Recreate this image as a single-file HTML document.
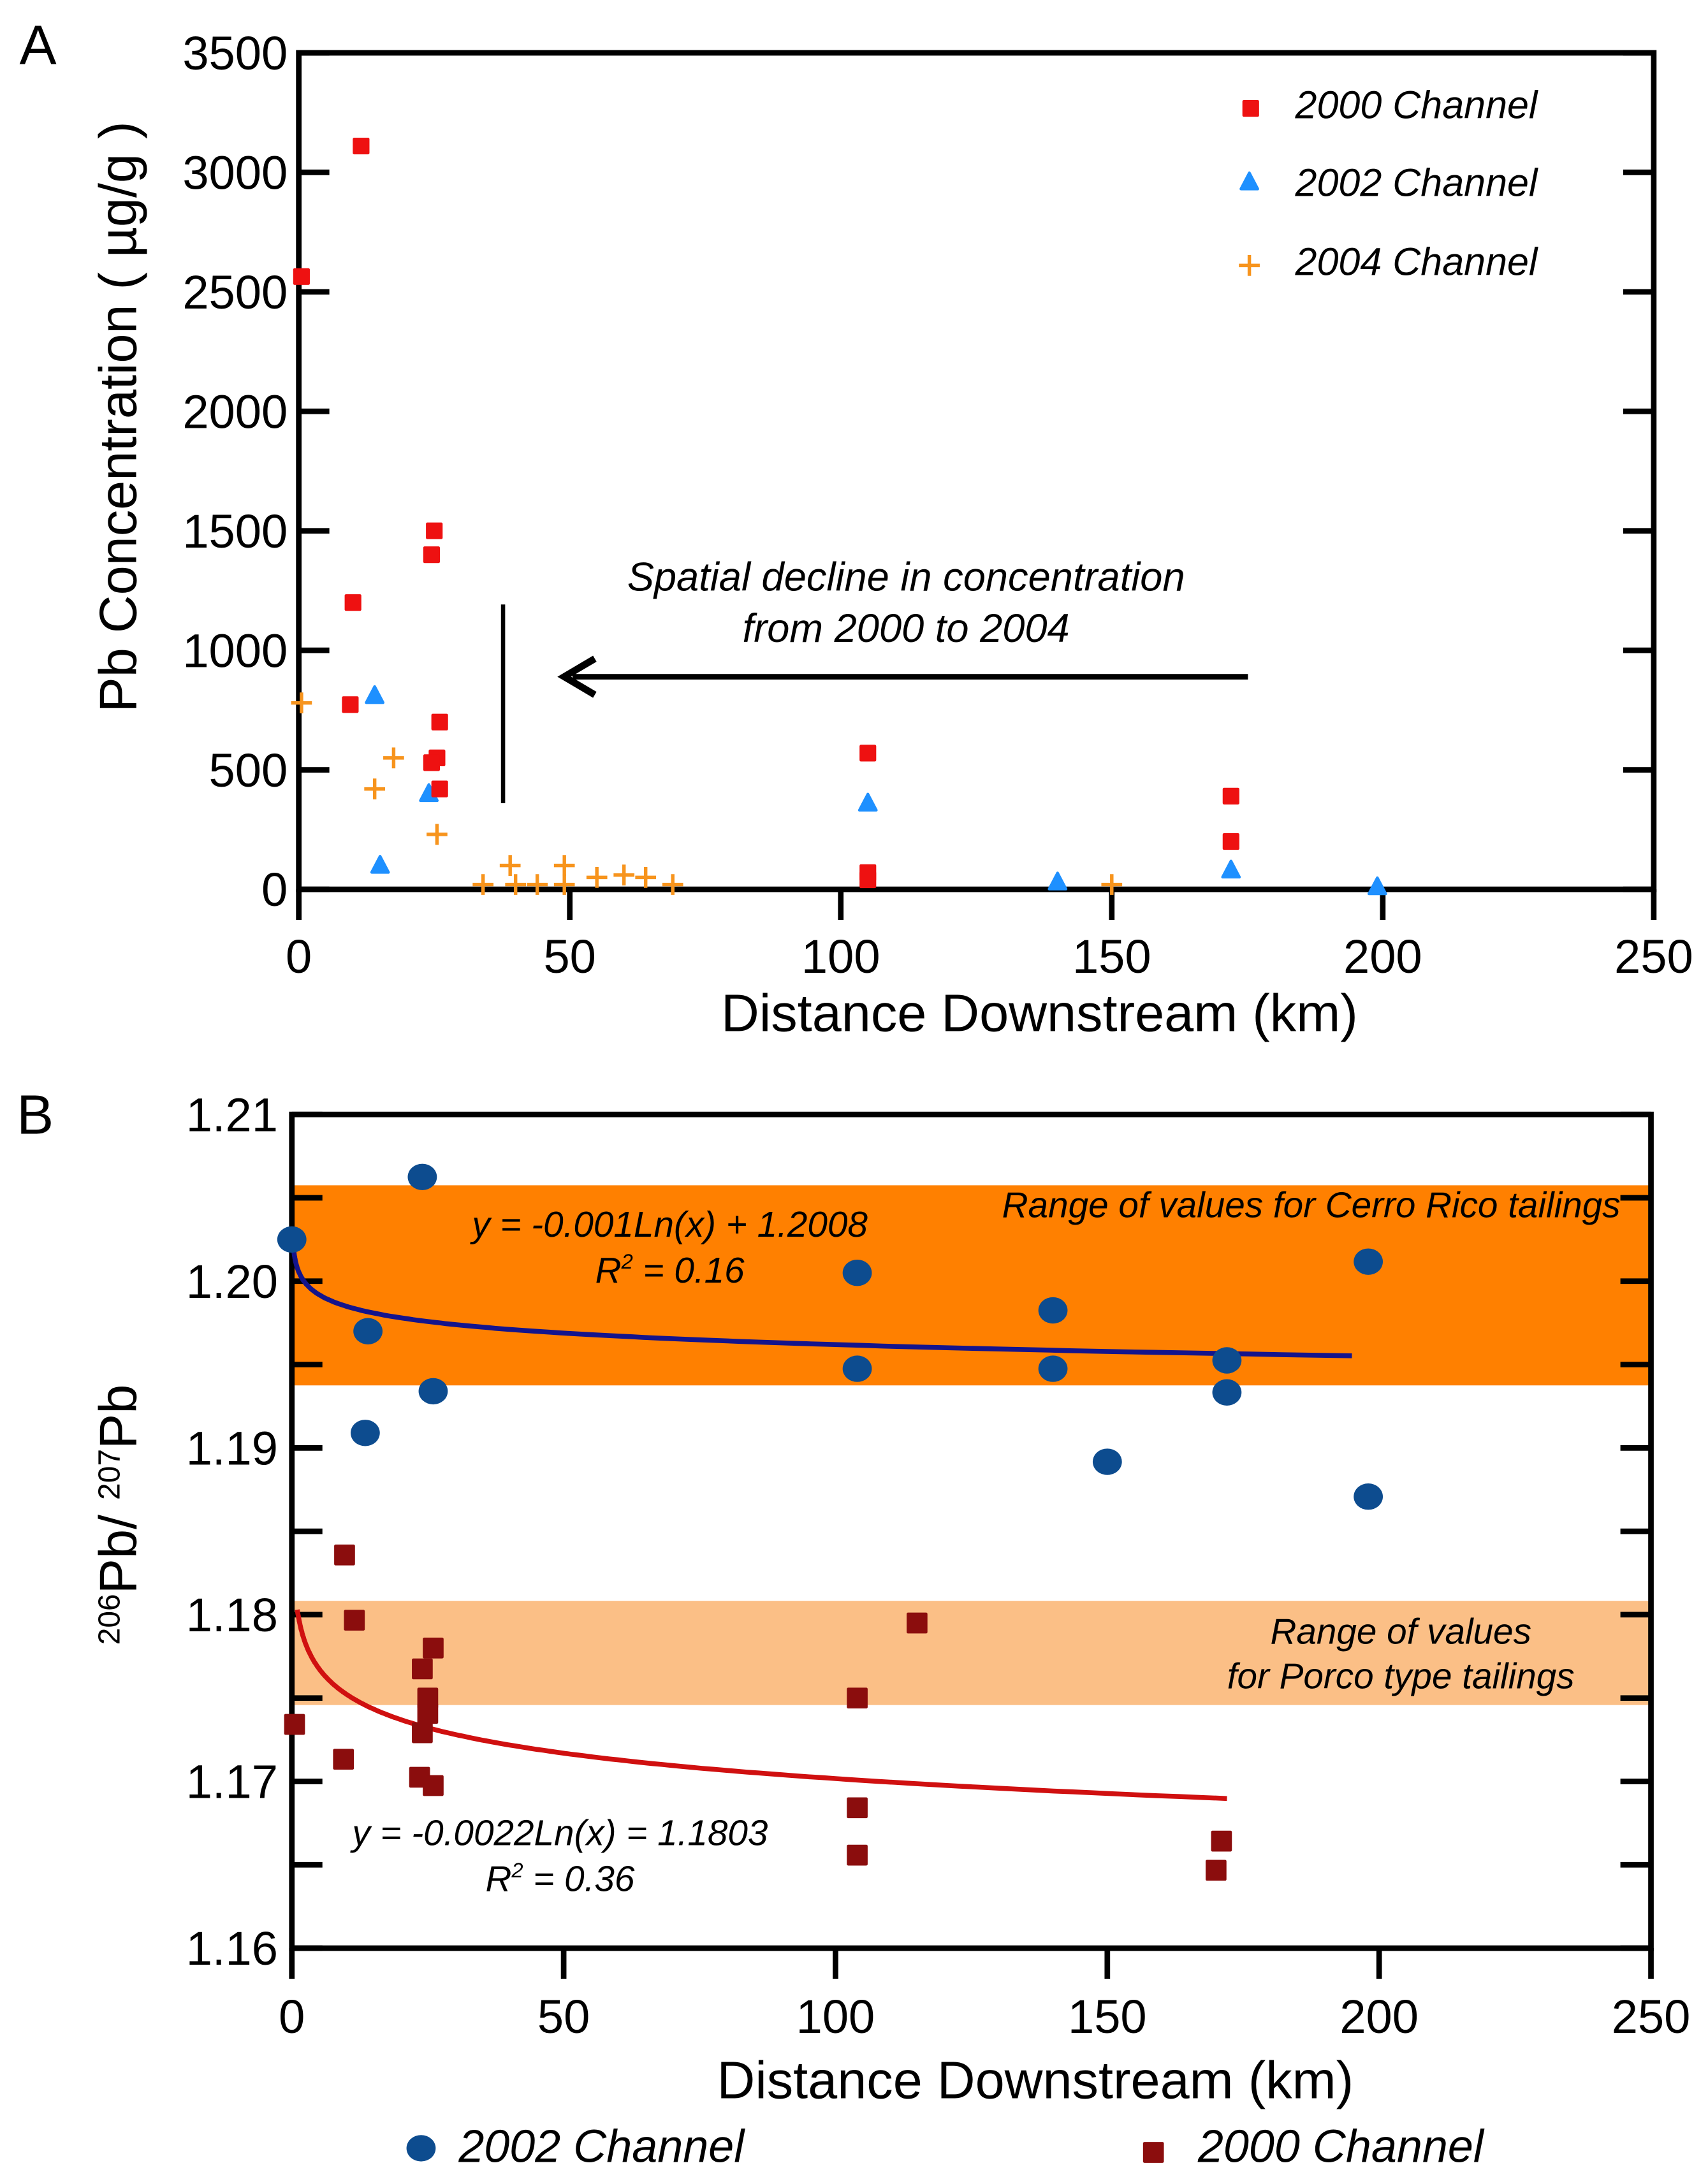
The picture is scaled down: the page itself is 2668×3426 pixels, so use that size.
<!DOCTYPE html>
<html><head><meta charset="utf-8"><style>
html,body{margin:0;padding:0;background:#fff}
svg{display:block}
text{font-family:"Liberation Sans",sans-serif}
</style></head><body>
<svg id="fig" width="2668" height="3426" viewBox="0 0 1224 1571.7" xmlns="http://www.w3.org/2000/svg">
<g id="A"></g>
<g id="B"></g>
</svg>
<script>
// ---------- Panel A data ----------
const aXTicks = [0,50,100,150,200,250];
const aYTicks = [0,500,1000,1500,2000,2500,3000,3500];
const a2000X = [0.5,11.5,10,9.5,25,24.5,26,25.5,24.5,26,105,105,105,172,172];
const a2000Y = [2564,3110,1200,773,1500,1400,700,550,530,420,570,70,40,390,200];
const a2002X = [14,15,24,105,140,172,199];
const a2002Y = [810,100,400,360,30,80,10];
const a2004X = [0.5,17.5,14,25.5,34,39,40,44,49,49,55,60,64,69,150];
const a2004Y = [780,550,420,230,20,100,20,20,100,20,50,60,50,20,20];
// ---------- Panel B data ----------
const bXTicks = [0,50,100,150,200,250];
const bYTicks = [1.16,1.17,1.18,1.19,1.20,1.21];
const b2002X = [0,24,14,13.5,26,104,104,140,140,150,172,172,198,198];
const b2002Y = [1.2025,1.20625,1.197,1.1909,1.1934,1.2005,1.19475,1.19825,1.19475,1.18917,1.19525,1.19333,1.20117,1.18708];
const b2000X = [0.5,9.7,11.5,9.5,24,26,25,25,24,23.5,26,104,104,104,115,171,170];
const b2000Y = [1.17342,1.18358,1.17967,1.17133,1.17675,1.178,1.175,1.17408,1.17292,1.17025,1.16975,1.175,1.16842,1.16558,1.1795,1.16642,1.16467];
const bCerroBand = [1.19375,1.20575];
const bPorcoBand = [1.17458,1.18083];
const fitBlue = [-0.001,1.2008];
const fitRed = [-0.0022,1.1803];

const NS="http://www.w3.org/2000/svg";
function mk(parent,tag,attrs,txt){const e=document.createElementNS(NS,tag);for(const k in attrs)e.setAttribute(k,attrs[k]);if(txt!==undefined)e.textContent=txt;parent.appendChild(e);return e;}

// ---------- Panel A ----------
const A=document.getElementById('A');
const aL=215,aR=1190,aT=38,aB=640;
const ax=v=>aL+(v-0)/250*(aR-aL);
const ay=v=>aB-(v/3500)*(aB-aT);
let t;
t=mk(A,'text',{x:14,y:46,'font-size':40});t.textContent='A';

aYTicks.forEach(v=>{
  let l=mk(A,'line',{x1:aL,x2:aL+22,y1:ay(v),y2:ay(v),stroke:'#000','stroke-width':4});
  
  l=mk(A,'line',{x1:aR-22,x2:aR,y1:ay(v),y2:ay(v),stroke:'#000','stroke-width':4});
  
  const tx=mk(A,'text',{x:aL-8,y:ay(v)+12,'font-size':34,'text-anchor':'end'},String(v));
  
});
aXTicks.forEach(v=>{
  const l=mk(A,'line',{x1:ax(v),x2:ax(v),y1:aB,y2:aB+22,stroke:'#000','stroke-width':4});
  
  const tx=mk(A,'text',{x:ax(v),y:700,'font-size':34,'text-anchor':'middle'},String(v));
  
});
let fr=mk(A,'rect',{x:aL,y:aT,width:aR-aL,height:aB-aT,fill:'none',stroke:'#000','stroke-width':4});

t=mk(A,'text',{x:748,y:742,'font-size':38,'text-anchor':'middle'},'Distance Downstream (km)');

t=mk(A,'text',{x:0,y:0,'font-size':38,'text-anchor':'middle',transform:'translate(98,300) rotate(-90)'},'Pb Concentration ( µg/g )');

// annotation
t=mk(A,'text',{x:652,y:425,'font-size':29,'font-style':'italic','text-anchor':'middle'},'Spatial decline in concentration');

t=mk(A,'text',{x:652,y:462,'font-size':29,'font-style':'italic','text-anchor':'middle'},'from 2000 to 2004');

let ln=mk(A,'line',{x1:898,x2:412,y1:487,y2:487,stroke:'#000','stroke-width':4});

ln=mk(A,'path',{d:'M428 474 L406 487 L428 500',fill:'none',stroke:'#000','stroke-width':5});

ln=mk(A,'line',{x1:362,x2:362,y1:435,y2:578,stroke:'#000','stroke-width':3});

// markers
function sq(g,x,y,s,c,name){const e=mk(g,'rect',{x:x-s/2,y:y-s/2,width:s,height:s,fill:c,rx:1});return e;}
function tri(g,x,y,s,c,name){const e=mk(g,'path',{d:`M${x} ${y-s*0.6} L${x+s*0.55} ${y+s*0.45} L${x-s*0.55} ${y+s*0.45}Z`,fill:c,stroke:c,'stroke-width':2,'stroke-linejoin':'round'});return e;}
function plus(g,x,y,s,c,name){const e=mk(g,'path',{d:`M${x-s/2} ${y}H${x+s/2}M${x} ${y-s/2}V${y+s/2}`,stroke:c,'stroke-width':2.5});return e;}
a2004X.forEach((v,i)=>plus(A,ax(v),ay(a2004Y[i]),15,'#f7941d','point-2004'));
a2002X.forEach((v,i)=>tri(A,ax(v),ay(a2002Y[i]),11,'#1e90ff','point-2002'));
a2000X.forEach((v,i)=>sq(A,ax(v),ay(a2000Y[i]),12,'#ee1111','point-2000'));
// legend A
sq(A,900,78,12,'#ee1111','legend-marker-2000');
t=mk(A,'text',{x:932,y:85,'font-size':28,'font-style':'italic'},'2000 Channel');

tri(A,899,131,11,'#1e90ff','legend-marker-2002');
t=mk(A,'text',{x:932,y:141,'font-size':28,'font-style':'italic'},'2002 Channel');

plus(A,899,191,15,'#f7941d','legend-marker-2004');
t=mk(A,'text',{x:932,y:198,'font-size':28,'font-style':'italic'},'2004 Channel');


// ---------- Panel B ----------
const B=document.getElementById('B');
const bL=210,bR=1188,bT=802,bBt=1402;
const bx=v=>bL+(v/250)*(bR-bL);
const by=v=>bBt-(v-1.16)/0.05*(bBt-bT);
t=mk(B,'text',{x:12,y:816,'font-size':40},'B');

let band=mk(B,'rect',{x:bL,y:by(bCerroBand[1]),width:bR-bL,height:by(bCerroBand[0])-by(bCerroBand[1]),fill:'#ff8000'});

band=mk(B,'rect',{x:bL,y:by(bPorcoBand[1]),width:bR-bL,height:by(bPorcoBand[0])-by(bPorcoBand[1]),fill:'#fbbf86'});

for(let k=0;k<=10;k++){const v=1.16+k*0.005;
  let l=mk(B,'line',{x1:bL,x2:bL+22,y1:by(v),y2:by(v),stroke:'#000','stroke-width':4});
  
  l=mk(B,'line',{x1:bR-22,x2:bR,y1:by(v),y2:by(v),stroke:'#000','stroke-width':4});
  
}
bYTicks.forEach(v=>{
  const tx=mk(B,'text',{x:bL-10,y:by(v)+12,'font-size':34,'text-anchor':'end'},v.toFixed(2));
  
});
bXTicks.forEach(v=>{
  const l=mk(B,'line',{x1:bx(v),x2:bx(v),y1:bBt,y2:bBt+22,stroke:'#000','stroke-width':4});
  
  const tx=mk(B,'text',{x:bx(v),y:1463,'font-size':34,'text-anchor':'middle'},String(v));
  
});
fr=mk(B,'rect',{x:bL,y:bT,width:bR-bL,height:bBt-bT,fill:'none',stroke:'#000','stroke-width':4});

// fit curves
function curve(c,x0,x1){let d='';for(let i=0;i<=200;i++){const x=x0*Math.pow(x1/x0,i/200);const y=c[0]*Math.log(x)+c[1];d+=(i?'L':'M')+bx(x).toFixed(1)+' '+by(y).toFixed(1);}return d;}
let cv=mk(B,'path',{d:curve(fitBlue,0.2,195),fill:'none',stroke:'#14148c','stroke-width':3.5});

cv=mk(B,'path',{d:curve(fitRed,1,172),fill:'none',stroke:'#d01010','stroke-width':3.5});

b2002X.forEach((v,i)=>{const e=mk(B,'ellipse',{cx:bx(v),cy:by(b2002Y[i]),rx:10.5,ry:9.5,fill:'#0d4c8f'});
  });
b2000X.forEach((v,i)=>sq(B,bx(v),by(b2000Y[i]),15,'#8b0d0d','point-2000'));
// annotations
t=mk(B,'text',{x:1166,y:876,'font-size':26,'font-style':'italic','text-anchor':'end'},'Range of values for Cerro Rico tailings');

t=mk(B,'text',{x:482,y:890,'font-size':26,'font-style':'italic','text-anchor':'middle'},'y = -0.001Ln(x) + 1.2008');

t=mk(B,'text',{x:482,y:923,'font-size':26,'font-style':'italic','text-anchor':'middle'});
t.innerHTML='R<tspan font-size="15" dy="-10">2</tspan><tspan dy="10"> = 0.16</tspan>';

t=mk(B,'text',{x:1008,y:1183,'font-size':26,'font-style':'italic','text-anchor':'middle'},'Range of values');

t=mk(B,'text',{x:1008,y:1215,'font-size':26,'font-style':'italic','text-anchor':'middle'},'for Porco type tailings');

t=mk(B,'text',{x:403,y:1328,'font-size':26,'font-style':'italic','text-anchor':'middle'},'y = -0.0022Ln(x) = 1.1803');

t=mk(B,'text',{x:403,y:1361,'font-size':26,'font-style':'italic','text-anchor':'middle'});
t.innerHTML='R<tspan font-size="15" dy="-10">2</tspan><tspan dy="10"> = 0.36</tspan>';

t=mk(B,'text',{x:745,y:1510,'font-size':38,'text-anchor':'middle'},'Distance Downstream (km)');

t=mk(B,'text',{x:0,y:0,'font-size':38,'text-anchor':'middle',transform:'translate(98,1090) rotate(-90)'});
t.innerHTML='<tspan font-size="22" dy="-12">206</tspan><tspan dy="12">Pb/ </tspan><tspan font-size="22" dy="-12">207</tspan><tspan dy="12">Pb</tspan>';

// legend B
let e=mk(B,'ellipse',{cx:303,cy:1546,rx:10.5,ry:9.5,fill:'#0d4c8f'});

t=mk(B,'text',{x:330,y:1556,'font-size':33,'font-style':'italic'},'2002 Channel');

sq(B,830,1549,15,'#8b0d0d','legend-marker-2000');
t=mk(B,'text',{x:862,y:1556,'font-size':33,'font-style':'italic'},'2000 Channel');

</script>
</body></html>
